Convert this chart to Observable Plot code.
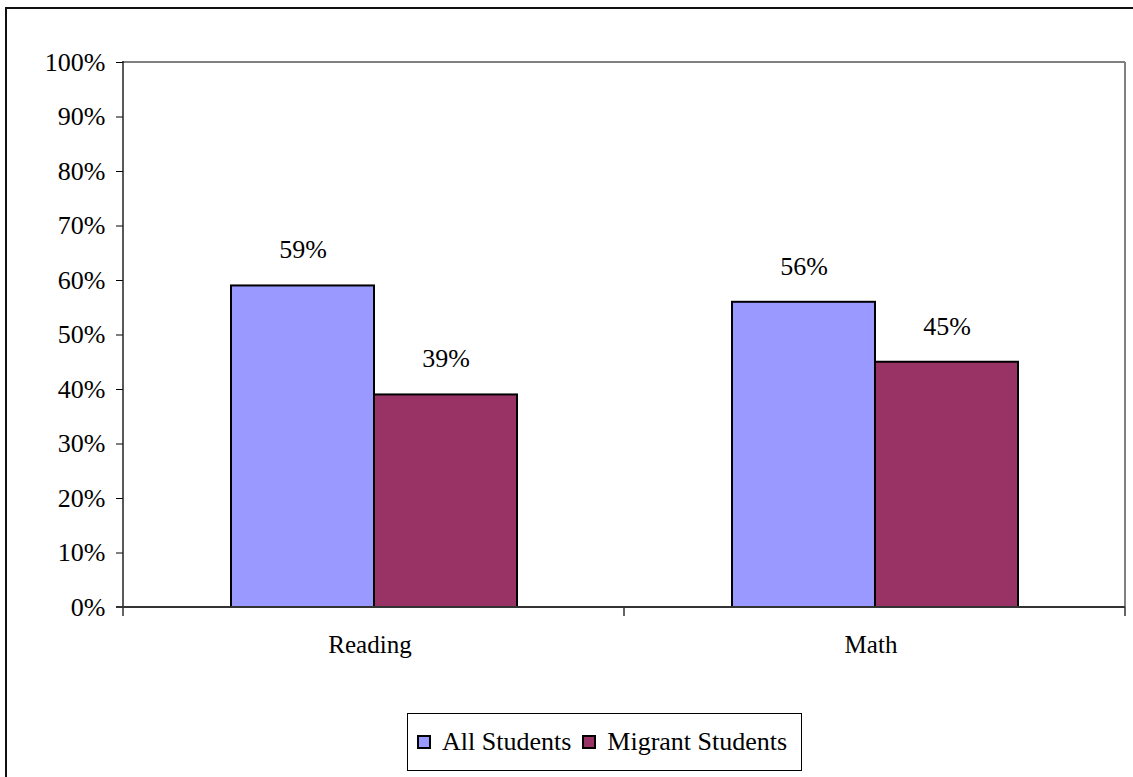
<!DOCTYPE html>
<html>
<head>
<meta charset="utf-8">
<script src="https://cdn.jsdelivr.net/npm/d3@7"></script>
<script src="https://cdn.jsdelivr.net/npm/@observablehq/plot@0.6"></script>
<style>
  html, body { margin: 0; padding: 0; background: #fff; }
  #page { position: relative; width: 1133px; height: 777px; overflow: hidden; background: #fff; font-family: "Liberation Serif", Tinos, "DejaVu Serif", serif; }
  #outer { position: absolute; left: 5px; top: 7px; width: 1140px; height: 790px; border: 2px solid #111; box-sizing: border-box; }
  #chart { position: absolute; left: 0; top: 0; }
  #legend { position: absolute; left: 407px; top: 713px; width: 395px; height: 58px; box-sizing: border-box; border: 1px solid #000; background: #fff; display: flex; align-items: center; padding-left: 9px; font-size: 26px; color: #000; }
  .sw { display: inline-block; width: 14px; height: 14px; border: 2px solid #000; box-sizing: border-box; margin-right: 11px; }
  .item { display: flex; align-items: center; margin-right: 11px; white-space: nowrap; }
  #chart svg text { font-family: "Liberation Serif", Tinos, "DejaVu Serif", serif; }
</style>
</head>
<body>
<div id="page">
  <div id="outer"></div>
  <div id="chart"></div>
  <div id="legend"></div>
</div>
<script>
const categories = ["Reading", "Math"];
const series = ["All Students", "Migrant Students"];
const allStudents = [0.59, 0.56];
const migrantStudents = [0.39, 0.45];
const yTicks = [0, 0.1, 0.2, 0.3, 0.4, 0.5, 0.6, 0.7, 0.8, 0.9, 1.0];
const colors = ["#9999FF", "#993366"];

const pct = d3.format(".0%");
const seriesValues = [allStudents, migrantStudents];
const data = categories.flatMap((c, i) =>
  series.map((s, j) => ({ category: c, series: s, value: seriesValues[j][i] }))
);

const serif = "'Liberation Serif', Tinos, 'DejaVu Serif', serif";

const plot = Plot.plot({
  width: 1133,
  height: 680,
  marginTop: 62,
  marginLeft: 122,
  marginRight: 8,
  marginBottom: 73,
  style: { fontFamily: serif, fontSize: "26px", color: "#000", background: "transparent" },
  fx: { domain: categories, paddingInner: 0, paddingOuter: 0, axis: null, label: null },
  x: { domain: series, paddingOuter: 0.75, paddingInner: 0, axis: null, label: null },
  y: { domain: [0, 1], ticks: yTicks, tickFormat: pct, tickSize: 7, tickPadding: 11, label: null },
  color: { domain: series, range: colors },
  marks: [
    Plot.barY(data, { fx: "category", x: "series", y: "value", fill: "series", stroke: "#000", strokeWidth: 2 }),
    Plot.text(data, { fx: "category", x: "series", y: "value", text: d => pct(d.value), dy: -36, fontSize: 26, fill: "#000" }),
    Plot.text(categories, { fx: d => d, frameAnchor: "bottom", dy: 45, dx: -4, text: d => d, fontSize: 25, fill: "#000" })
  ]
});

// Frame lines and x-axis boundary ticks, positioned from the plot's own scales
(function () {
  const fxS = plot.scale("fx");
  const yS = plot.scale("y");
  const xLeft = fxS.apply(categories[0]);
  const xRight = fxS.apply(categories[categories.length - 1]) + fxS.bandwidth;
  const yTop = yS.apply(1);
  const yBottom = yS.apply(0);
  const svg = d3.select(plot.tagName.toLowerCase() === "svg" ? plot : plot.querySelector("svg"));
  const g = svg.append("g");
  g.append("line").attr("x1", xLeft).attr("x2", xRight).attr("y1", yTop).attr("y2", yTop).attr("stroke", "#808080").attr("stroke-width", 2);
  g.append("line").attr("x1", xRight).attr("x2", xRight).attr("y1", yTop).attr("y2", yBottom).attr("stroke", "#808080").attr("stroke-width", 2);
  g.append("line").attr("x1", xLeft).attr("x2", xLeft).attr("y1", yTop - 1).attr("y2", yBottom).attr("stroke", "#222").attr("stroke-width", 1.5);
  g.append("line").attr("x1", xLeft - 7).attr("x2", xRight).attr("y1", yBottom).attr("y2", yBottom).attr("stroke", "#333").attr("stroke-width", 2);
  const bounds = categories.map(c => fxS.apply(c)).concat([xRight]);
  bounds.forEach(bx => {
    g.append("line").attr("x1", bx).attr("x2", bx).attr("y1", yBottom).attr("y2", yBottom + 9).attr("stroke", "#333").attr("stroke-width", 1.5);
  });
})();

document.getElementById("chart").appendChild(plot);

// Legend
const legend = d3.select("#legend");
series.forEach((s, i) => {
  const item = legend.append("div").attr("class", "item");
  item.append("span").attr("class", "sw").style("background", colors[i]);
  item.append("span").text(s);
});
</script>
</body>
</html>
